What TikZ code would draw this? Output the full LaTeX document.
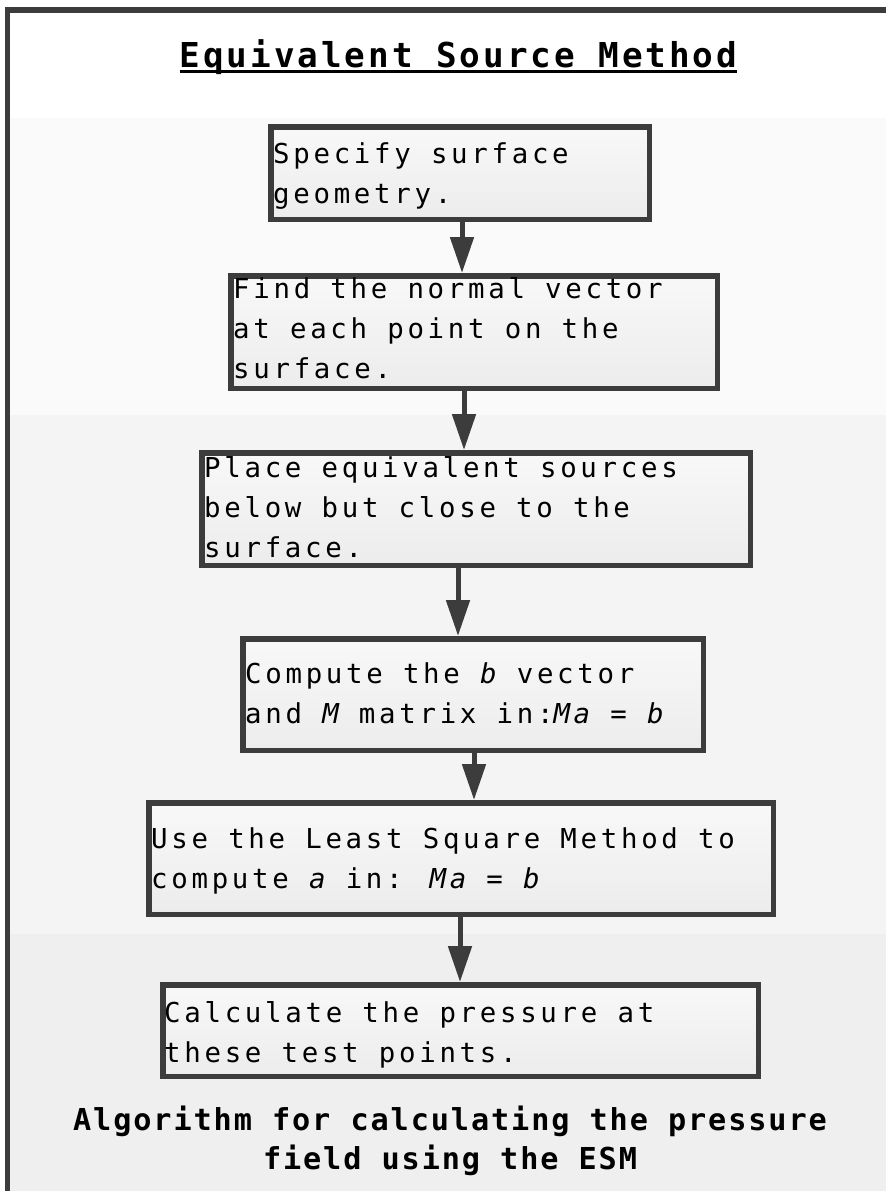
\documentclass[tikz,border=0pt]{standalone}
\usepackage{fontspec}
\usetikzlibrary{arrows.meta}
\newfontfamily\boxfont{DejaVu Sans Mono}[LetterSpace=13.5]
\newfontfamily\headfont{DejaVu Sans Mono}[LetterSpace=8.6]
\newfontfamily\capfont{DejaVu Sans Mono}[LetterSpace=6.3]
\definecolor{frameC}{HTML}{3C3C3C}
\definecolor{bandA}{HTML}{FAFAFA}
\definecolor{bandB}{HTML}{F4F4F4}
\definecolor{bandC}{HTML}{EFEFEF}
\definecolor{boxTop}{HTML}{F8F8F8}
\definecolor{boxBot}{HTML}{ECECEC}
\tikzset{
  stepbox/.style={draw=frameC, line width=5.5pt, top color=boxTop, bottom color=boxBot,
    rectangle, inner sep=0pt},
  steptext/.style={anchor=base west, inner sep=0pt,
    font=\boxfont\fontsize{27.4}{40}\selectfont},
  flow/.style={draw=frameC, line width=5pt, -{Triangle[length=36pt,width=23pt]}},
}
\newcommand{\steplines}[1]{\parbox[t]{640pt}{\raggedright #1}}
\begin{document}
\begin{tikzpicture}[x=1pt,y=-1pt]
\useasboundingbox (0,0) rectangle (886,1191);
% background bands
\fill[white] (0,0) rectangle (886,1191);
\fill[bandA] (10,118) rectangle (886,415);
\fill[bandB] (10,415) rectangle (886,934);
\fill[bandC] (10,934) rectangle (886,1191);
% frame (cropped on right and bottom)
\draw[frameC, line width=5.5pt] (7.5,1191) -- (7.5,10) -- (886,10);

% title
\node[anchor=base, inner sep=0pt, font=\headfont\bfseries\fontsize{34.3}{40}\selectfont]
  (title) at (458.5,67) {Equivalent Source Method};
\draw[black, line width=2.5pt] ([yshift=-4.5pt]title.base west) -- ([yshift=-4.5pt]title.base east);

% boxes
\node[stepbox, minimum width=378.5pt, minimum height=92.5pt]  (b1) at (460,173) {};
\node[stepbox, minimum width=486.5pt, minimum height=112.5pt] (b2) at (474,332) {};
\node[stepbox, minimum width=548.5pt, minimum height=112.5pt] (b3) at (476,509) {};
\node[stepbox, minimum width=460.5pt, minimum height=111.5pt] (b4) at (473,694.5) {};
\node[stepbox, minimum width=624.5pt, minimum height=111.5pt] (b5) at (461,858.5) {};
\node[stepbox, minimum width=595.5pt, minimum height=91.5pt]  (b6) at (460.5,1030.5) {};

% texts
\node[steptext] (t1) at (273,163) {\steplines{Specify surface\\geometry.}};
\node[steptext] (t2) at (233,298) {\steplines{Find the normal vector\\at each point on the\\surface.}};
\node[steptext] (t3) at (204,477) {\steplines{Place equivalent sources\\below but close to the\\surface.}};
\node[steptext] (t4) at (245,683) {\steplines{Compute the {\itshape b} vector\\and {\itshape M} matrix in:{\itshape Ma} = {\itshape b}}};
\node[steptext] (t5) at (151,848) {\steplines{Use the Least Square Method to\\compute {\itshape a} in: {\itshape Ma} = {\itshape b}}};
\node[steptext] (t6) at (164,1022) {\steplines{Calculate the pressure at\\these test points.}};

% arrows
\draw[flow] ([xshift=2pt]b1.south) -- ([xshift=-12pt]b2.north);
\draw[flow] ([xshift=-10pt]b2.south) -- ([xshift=-12pt]b3.north);
\draw[flow] ([xshift=-18pt]b3.south) -- ([xshift=-15pt]b4.north);
\draw[flow] ([xshift=1pt]b4.south) -- ([xshift=13pt]b5.north);
\draw[flow] ([xshift=-1pt]b5.south) -- ([xshift=-0.5pt]b6.north);

% caption
\node[anchor=base, inner sep=0pt, font=\capfont\bfseries\fontsize{30.2}{39}\selectfont]
  (cap) at (450,1130) {\parbox[t]{840pt}{\centering Algorithm for calculating the pressure\\field using the ESM}};
\end{tikzpicture}
\end{document}
